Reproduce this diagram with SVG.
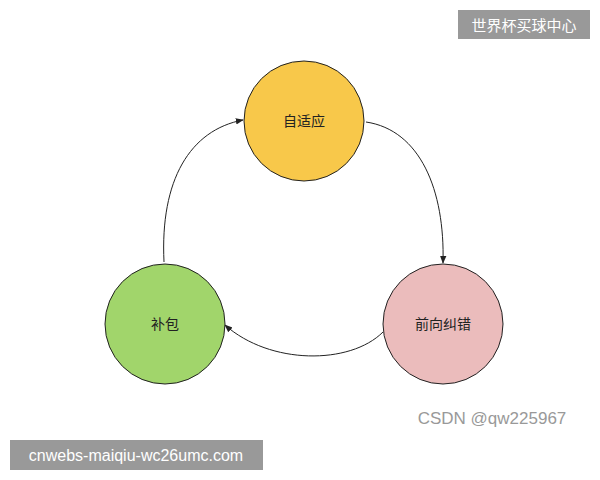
<svg xmlns="http://www.w3.org/2000/svg" width="600" height="480" viewBox="0 0 600 480">
<style>
.n{stroke:#222;stroke-width:1}
.t{font-family:"Liberation Sans","Noto Sans CJK SC",sans-serif;font-size:14px;fill:#222;text-anchor:middle;dominant-baseline:central}
.c{fill:none;stroke:#222;stroke-width:1;marker-end:url(#a)}
</style>
<defs><marker id="a" viewBox="0 0 10 10" refX="9" refY="5" markerWidth="8" markerHeight="8" orient="auto"><path d="M0,1 L10,5 L0,9 z" fill="#222"/></marker></defs>
<rect width="600" height="480" fill="#fff"/>
<g id="connectors">
<path class="c" d="M366,122 C420,130 445,190 443,263"/>
<path class="c" d="M383,332 C350,365 270,365 225,325"/>
<path class="c" d="M164,262 C160,180 190,130 243,120"/>
</g>
<g id="n1"><circle class="n" cx="304" cy="121" r="60" fill="#f8c84a"/><text class="t" x="304" y="121">自适应</text></g>
<g id="n2"><circle class="n" cx="443" cy="324" r="60" fill="#ebbcbc"/><text class="t" x="443" y="324">前向纠错</text></g>
<g id="n3"><circle class="n" cx="165" cy="324" r="60" fill="#a1d56b"/><text class="t" x="165" y="324">补包</text></g>
<g id="wm">
<rect x="458" y="10" width="132" height="29" fill="#999"/>
<text x="524" y="25" font-family="Liberation Sans,Noto Sans CJK SC,sans-serif" font-size="15" fill="#fff" text-anchor="middle" dominant-baseline="central">世界杯买球中心</text>
<rect x="10" y="440" width="253" height="30" fill="#999"/>
<text x="136" y="455" font-family="Liberation Sans,sans-serif" font-size="16" fill="#fff" text-anchor="middle" dominant-baseline="central">cnwebs-maiqiu-wc26umc.com</text>
<text x="492" y="418" font-family="Liberation Sans,sans-serif" font-size="17" fill="#999" text-anchor="middle" dominant-baseline="central">CSDN @qw225967</text>
</g>
</svg>
